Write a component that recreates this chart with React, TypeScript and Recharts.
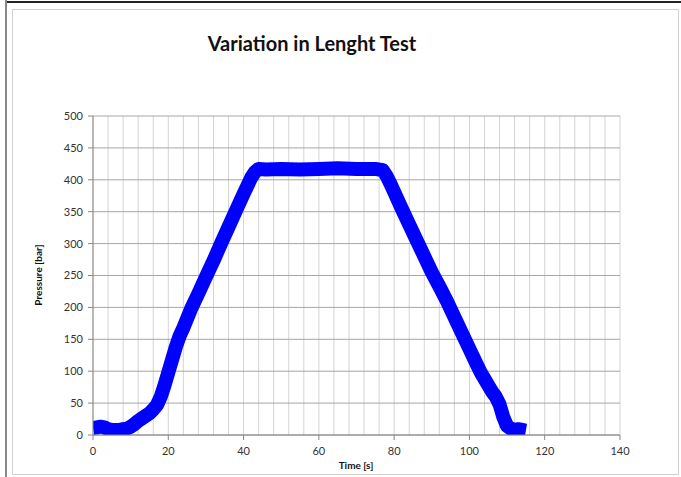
import React from 'react';
import { LineChart, Line, XAxis, YAxis, CartesianGrid } from 'recharts';

const times = [0, 1, 2, 3, 4, 5, 6, 7, 8, 9, 10, 11, 12, 13, 14, 15, 16, 17, 18, 19, 20, 21, 22, 23, 24, 26, 28, 30, 32, 34, 36, 38, 40, 42, 43, 44, 46, 50, 55, 60, 65, 70, 75, 77, 78, 79, 80, 82, 84, 86, 88, 90, 92, 94, 96, 98, 100, 102, 103, 104, 105, 106, 107, 108, 109, 110, 111, 112, 113, 114, 115];
const pressures = [11, 12, 13, 12, 9, 8, 8, 8, 9, 10, 13, 17, 22, 26, 30, 34, 40, 47, 60, 78, 98, 118, 138, 155, 168, 197, 222, 248, 273, 300, 326, 352, 378, 403, 412, 417, 416, 417, 416, 417, 418, 417, 417, 415, 406, 394, 381, 355, 330, 305, 280, 255, 233, 210, 185, 160, 135, 110, 98, 88, 78, 68, 60, 48, 28, 14, 10, 8, 9, 8, 7];

const xTicks = [0, 4, 8, 12, 16, 20, 24, 28, 32, 36, 40, 44, 48, 52, 56, 60, 64, 68, 72, 76, 80, 84, 88, 92, 96, 100, 104, 108, 112, 116, 120, 124, 128, 132, 136, 140];
const xLabelTicks = [0, 20, 40, 60, 80, 100, 120, 140];
const yTicks = [0, 50, 100, 150, 200, 250, 300, 350, 400, 450, 500];

const data = times.map((t, i) => ({ t, p: pressures[i] }));

const FONT = 'Lato, "Open Sans", sans-serif';

const XTick = (props: any) => {
  const { x, y, payload } = props;
  const major = xLabelTicks.includes(payload.value);
  if (!major) return <g />;
  return (
    <g>
      <line x1={x} y1={y} x2={x} y2={y + 5} stroke="#868686" strokeWidth={1} />
      <text x={x} y={y + 16} dy="0.35em" textAnchor="middle" fontSize={11} fill="#333" fontFamily={FONT}>
        {payload.value}
      </text>
    </g>
  );
};

export default function App() {
  return (
    <div style={{ position: 'fixed', left: 0, top: 0, width: 681, height: 477, background: '#fff', overflow: 'hidden' }}>
      <div style={{ position: 'absolute', left: 5, top: 1, width: 676, height: 2, background: '#222' }} />
      <div style={{ position: 'absolute', left: 5, top: 0, width: 2, height: 477, background: '#888' }} />
      <div style={{ position: 'absolute', left: 12, top: 9, width: 665, height: 464, border: '1px solid #d0d0d0' }} />
      <div
        style={{
          position: 'absolute', left: 0, top: 29, width: 624, textAlign: 'center',
          fontFamily: FONT, fontWeight: 'bold', fontSize: 20, color: '#111', lineHeight: '28px',
        }}
      >
        Variation in Lenght Test
      </div>
      <div
        style={{
          position: 'absolute', left: 38, top: 275, transform: 'translate(-50%, -50%) rotate(-90deg)',
          fontFamily: FONT, fontWeight: 'bold', fontSize: 10, color: '#111', whiteSpace: 'nowrap',
        }}
      >
        Pressure [bar]
      </div>
      <div
        style={{
          position: 'absolute', left: 356, top: 465, transform: 'translate(-50%, -50%)',
          fontFamily: FONT, fontWeight: 'bold', fontSize: 10, color: '#111', whiteSpace: 'nowrap',
        }}
      >
        Time [s]
      </div>
      <div style={{ position: 'absolute', left: 0, top: 0 }}>
        <LineChart width={681} height={477} data={data} margin={{ top: 116, right: 61, bottom: 2, left: 30 }}>
          <CartesianGrid horizontal={false} stroke="#d4d4d4" strokeWidth={1} />
          <CartesianGrid vertical={false} stroke="#a6a6a6" strokeWidth={1} />
          <XAxis
            type="number"
            dataKey="t"
            domain={[0, 140]}
            ticks={xTicks}
            interval={0}
            allowDataOverflow
            height={40}
            tickSize={0}
            tickMargin={0}
            tick={<XTick />}
            axisLine={{ stroke: '#868686' }}
          />
          <YAxis
            type="number"
            domain={[0, 500]}
            ticks={yTicks}
            interval={0}
            allowDataOverflow
            width={63}
            tickSize={5}
            tickMargin={5}
            tickLine={{ stroke: '#868686' }}
            axisLine={{ stroke: '#868686' }}
            tick={{ fontSize: 11, fill: '#333', fontFamily: FONT }}
          />
          <Line
            type="linear"
            dataKey="p"
            stroke="#0000ff"
            strokeWidth={14}
            strokeLinejoin="round"
            dot={false}
            isAnimationActive={false}
          />
        </LineChart>
      </div>
    </div>
  );
}
